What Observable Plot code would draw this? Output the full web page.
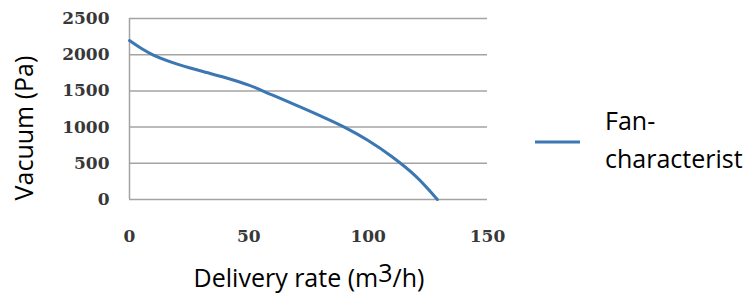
<!DOCTYPE html>
<html>
<head>
<meta charset="utf-8">
<script src="https://cdn.jsdelivr.net/npm/d3@7"></script>
<script src="https://cdn.jsdelivr.net/npm/@observablehq/plot@0.6"></script>
<style>
  html, body { margin: 0; padding: 0; background: #fff; }
  #wrap { position: relative; width: 750px; height: 296px; overflow: hidden; }
  #legend { position: absolute; left: 0; top: 0; width: 750px; height: 296px; pointer-events: none; }
  .ticklab text { font-family: "DejaVu Serif", serif !important; font-weight: bold !important; font-size: 17px !important; fill: #383838 !important; }
</style>
</head>
<body>
<div id="wrap"></div>
<script>
// Data
const flow = [0, 5, 10, 20, 30, 40, 50, 60, 70, 80, 90, 100, 110, 120, 129];
const vacuum = [2195, 2085, 1995, 1870, 1775, 1685, 1580, 1440, 1300, 1155, 1000, 815, 590, 320, 0];
const xTicks = [0, 50, 100, 150];
const yTicks = [0, 500, 1000, 1500, 2000, 2500];
const seriesName = ["Fan-", "characterist"];
const xTitle = "Delivery rate";
const yTitle = "Vacuum (Pa)";

const data = flow.map((f, i) => ({flow: f, vacuum: vacuum[i]}));
const lineColor = "#3b77b3";

const chart = Plot.plot({
  width: 750,
  height: 296,
  marginLeft: 129,
  marginRight: 263,
  marginTop: 18,
  marginBottom: 97,
  style: {background: "#fff", overflow: "visible"},
  x: {domain: [0, 150], label: null},
  y: {domain: [0, 2500], label: null},
  marks: [
    Plot.ruleY(yTicks, {stroke: "#a3a3a3", strokeWidth: 1.5}),
    Plot.ruleX([0], {stroke: "#a3a3a3", strokeWidth: 1.5}),
    Plot.axisX({ticks: xTicks, tickFormat: d => String(d), tickSize: 0, tickPadding: 30, label: null, className: "ticklab"}),
    Plot.axisY({ticks: yTicks, tickFormat: d => String(d), tickSize: 0, tickPadding: 20, label: null, className: "ticklab"}),
    Plot.line(data, {x: "flow", y: "vacuum", stroke: lineColor, strokeWidth: 3, curve: "catmull-rom"})
  ]
});

document.getElementById("wrap").appendChild(chart);

// Make sure tick labels use the bold serif face
d3.select(chart).selectAll('g[aria-label$="tick label"] text')
  .style("font-family", "'DejaVu Serif', serif")
  .style("font-weight", "bold")
  .style("font-size", "17px")
  .style("fill", "#383838");

// Axis titles
const svg = d3.select(chart);
const xt = svg.append("text")
  .attr("x", 309).attr("y", 287)
  .attr("text-anchor", "middle")
  .style("font-family", "'Open Sans'").style("font-size", "25px").attr("fill", "#000");
xt.append("tspan").text(xTitle + " (m");
xt.append("tspan").attr("dy", -5).text("3");
xt.append("tspan").attr("dy", 5).text("/h)");

svg.append("text")
  .attr("transform", "translate(33,128) rotate(-90)")
  .attr("text-anchor", "middle")
  .style("font-family", "'Open Sans'").style("font-size", "25px").attr("fill", "#000")
  .text(yTitle);

// Legend
const leg = d3.select("#wrap").append("svg").attr("id", "legend")
  .attr("width", 750).attr("height", 296);
leg.append("line").attr("x1", 535).attr("x2", 580).attr("y1", 142).attr("y2", 142)
  .attr("stroke", lineColor).attr("stroke-width", 3);
leg.append("text").attr("x", 605).attr("y", 130)
  .style("font-family", "'Open Sans'").style("font-size", "25px").attr("fill", "#000")
  .text(seriesName[0]);
leg.append("text").attr("x", 605).attr("y", 168)
  .style("font-family", "'Open Sans'").style("font-size", "25px").attr("fill", "#000")
  .text(seriesName[1]);
</script>
</body>
</html>
